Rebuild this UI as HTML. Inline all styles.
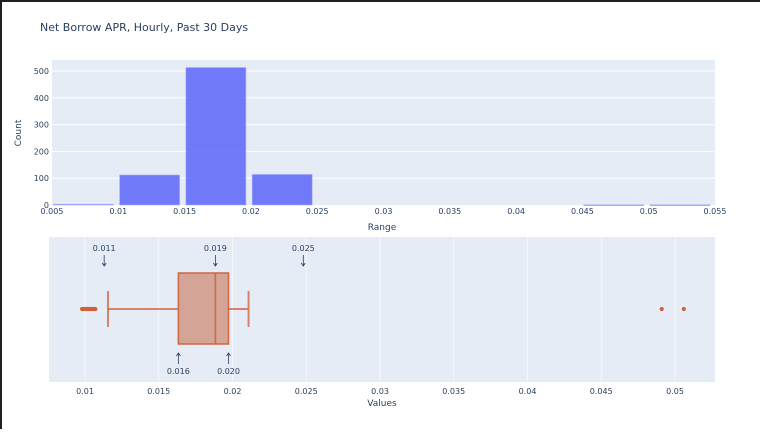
<!DOCTYPE html>
<html><head><meta charset="utf-8">
<style>
html,body{margin:0;padding:0;background:#fff;}
body{width:760px;height:429px;overflow:hidden;font-family:"Liberation Sans","DejaVu Sans",sans-serif;}
svg text{font-family:"DejaVu Sans","Liberation Sans",sans-serif;fill:#2a3f5f;}
</style></head>
<body>
<svg id="chart" width="760" height="429" xmlns="http://www.w3.org/2000/svg">
<rect x="0" y="0" width="760" height="2" fill="#1e1e24"/>
<rect x="0" y="0" width="2" height="429" fill="#1e1e24"/>
<text x="40" y="31" font-size="11">Net Borrow APR, Hourly, Past 30 Days</text>
<g id="hist"></g>
<g id="box"></g>
</svg>
<script>
// Histogram data
const binStarts = [0.005, 0.010, 0.015, 0.020, 0.045, 0.050];
const binCounts = [3, 112, 513, 114, 1, 1];
const binWidth = 0.005;
const histXTicks = [0.005,0.01,0.015,0.02,0.025,0.03,0.035,0.04,0.045,0.05,0.055];
const histXTickLabels = ["0.005","0.01","0.015","0.02","0.025","0.03","0.035","0.04","0.045","0.05","0.055"];
const histYTicks = [0,100,200,300,400,500];
// Box data
const boxQ1 = 0.01633, boxMedian = 0.01884, boxQ3 = 0.01973;
const boxLowerFence = 0.01156, boxUpperFence = 0.02109;
const outliers = [0.0098,0.0099,0.0100,0.0101,0.0102,0.0103,0.0104,0.0105,0.0106,0.0107,0.0491,0.0506];
const boxXTicks = [0.01,0.015,0.02,0.025,0.03,0.035,0.04,0.045,0.05];
const boxXTickLabels = ["0.01","0.015","0.02","0.025","0.03","0.035","0.04","0.045","0.05"];
const annotTopValues = [0.0113, 0.01884, 0.0248];
const annotTopLabels = ["0.011","0.019","0.025"];
const annotBottomValues = [0.01633, 0.01973];
const annotBottomLabels = ["0.016","0.020"];

const NS="http://www.w3.org/2000/svg";
function mk(parent,tag,attrs){const e=document.createElementNS(NS,tag);for(const k in attrs)e.setAttribute(k,attrs[k]);parent.appendChild(e);return e;}

// Histogram
const H=document.getElementById('hist');
const hx0=52,hx1=715,hy0=60,hy1=205;
const hx=v=>hx0+(v-0.005)/(0.055-0.005)*(hx1-hx0);
const hy=v=>hy1-v/500*(hy1-71);
let r=mk(H,'rect',{x:hx0,y:hy0,width:hx1-hx0,height:hy1-hy0,fill:'#e5ecf6'});


histYTicks.forEach(t=>{
  if(t>0){const l=mk(H,'line',{x1:hx0,x2:hx1,y1:hy(t),y2:hy(t),stroke:'#fff','stroke-width':1});
  
  }
  const tx=mk(H,'text',{x:hx0-3,y:hy(t)+3,'font-size':8,'text-anchor':'end'});tx.textContent=t;
  
  
});
binStarts.forEach((s,i)=>{
  const x1=hx(s)+1.3,x2=hx(s+binWidth)-5,y=hy(binCounts[i]);
  const b=mk(H,'rect',{x:x1,y:y,width:x2-x1,height:Math.max(hy1-y,0.8),fill:'#636efa','fill-opacity':0.9,stroke:'#a9aefc','stroke-width':0.6});
  
  
});
histXTicks.forEach((t,i)=>{
  const tx=mk(H,'text',{x:hx(t),y:hy1+9,'font-size':8,'text-anchor':'middle'});tx.textContent=histXTickLabels[i];
  
  
});
let t1=mk(H,'text',{x:382,y:230,'font-size':9,'text-anchor':'middle'});t1.textContent='Range';


let t2=mk(H,'text',{x:21,y:133,'font-size':9,'text-anchor':'middle',transform:'rotate(-90 21 133)'});t2.textContent='Count';



// Box plot
const B=document.getElementById('box');
const bx0=49,bx1=715,by0=237,by1=382;
const bx=v=>85+(v-0.01)/0.005*73.75;
r=mk(B,'rect',{x:bx0,y:by0,width:bx1-bx0,height:by1-by0,fill:'#e5ecf6'});


boxXTicks.forEach((t,i)=>{
  const l=mk(B,'line',{x1:bx(t),x2:bx(t),y1:by0,y2:by1,stroke:'#fff','stroke-width':0.8,'stroke-opacity':0.8});
  
  
  const tx=mk(B,'text',{x:bx(t),y:by1+12,'font-size':8,'text-anchor':'middle'});tx.textContent=boxXTickLabels[i];
  
  
});
const cy=309,c='#d0603a';
let w=mk(B,'line',{x1:bx(boxLowerFence),x2:bx(boxQ1),y1:cy,y2:cy,stroke:c,'stroke-width':2,'stroke-opacity':0.75});


w=mk(B,'line',{x1:bx(boxQ3),x2:bx(boxUpperFence),y1:cy,y2:cy,stroke:c,'stroke-width':2,'stroke-opacity':0.75});


[boxLowerFence,boxUpperFence].forEach(v=>{
  const cap=mk(B,'line',{x1:bx(v),x2:bx(v),y1:291,y2:327,stroke:c,'stroke-width':2,'stroke-opacity':0.75});
  
  
});
let bb=mk(B,'rect',{x:bx(boxQ1),y:273,width:bx(boxQ3)-bx(boxQ1),height:71,fill:'#d4a596',stroke:c,'stroke-width':1.6,'stroke-opacity':0.9});


let md=mk(B,'line',{x1:bx(boxMedian),x2:bx(boxMedian),y1:273,y2:344,stroke:c,'stroke-width':1.6,'stroke-opacity':0.9});


outliers.forEach(v=>{
  const p=mk(B,'circle',{cx:bx(v),cy:cy,r:2.1,fill:c});
  
  
});
annotTopValues.forEach((v,i)=>{
  const tx=mk(B,'text',{x:bx(v),y:251,'font-size':8,'text-anchor':'middle'});tx.textContent=annotTopLabels[i];
  
  
  const a=mk(B,'path',{d:`M${bx(v)} 255 V266 M${bx(v)-2} 263 L${bx(v)} 266 L${bx(v)+2} 263`,stroke:'#2a3f5f','stroke-width':0.8,fill:'none'});
  
  
});
annotBottomValues.forEach((v,i)=>{
  const tx=mk(B,'text',{x:bx(v),y:374,'font-size':8,'text-anchor':'middle'});tx.textContent=annotBottomLabels[i];
  
  
  const a=mk(B,'path',{d:`M${bx(v)} 364 V353 M${bx(v)-2} 356 L${bx(v)} 353 L${bx(v)+2} 356`,stroke:'#2a3f5f','stroke-width':0.8,fill:'none'});
  
  
});
let t3=mk(B,'text',{x:382,y:406,'font-size':9,'text-anchor':'middle'});t3.textContent='Values';


</script>
</body></html>
